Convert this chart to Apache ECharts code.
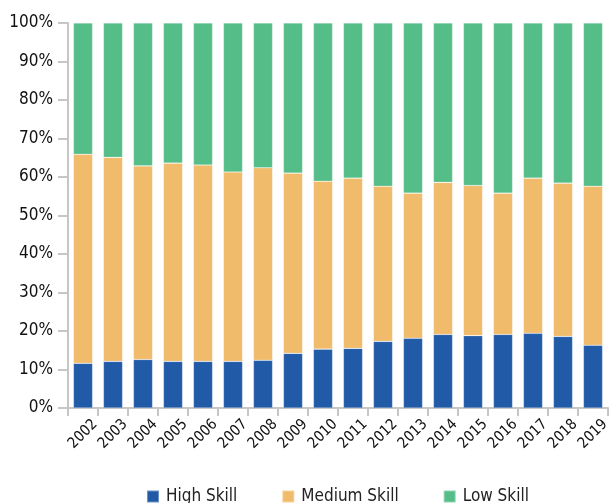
<!DOCTYPE html>
<html>
<head>
<meta charset="utf-8">
<script src="https://cdn.jsdelivr.net/npm/echarts@6/dist/echarts.min.js"></script>
<style>
  html, body { margin: 0; padding: 0; background: #fff; }
  #chart { width: 614px; height: 503px; }
</style>
</head>
<body>
<div id="chart"></div>
<script>
// Share of employment by skill level, percent of total per year
const years = ['2002','2003','2004','2005','2006','2007','2008','2009','2010',
               '2011','2012','2013','2014','2015','2016','2017','2018','2019'];
const highSkill   = [11.6,12.1,12.6,12.1,12.1,12.1,12.4,14.2,15.3,15.5,17.3,18.1,19.1,18.8,19.1,19.4,18.6,16.3];
const mediumSkill = [54.3,53.0,50.3,51.5,51.0,49.2,50.0,46.8,43.6,44.2,40.3,37.7,39.5,39.0,36.7,40.3,39.8,41.3];
const lowSkill    = [34.1,34.9,37.1,36.4,36.9,38.7,37.6,39.0,41.1,40.3,42.4,44.2,41.4,42.2,44.2,40.3,41.6,42.4];
const yTicks = [0,10,20,30,40,50,60,70,80,90,100];

const FONT = '"DejaVu Sans Condensed", "DejaVu Sans", sans-serif';
const axisGray = '#c6c6c6';

const chart = echarts.init(document.getElementById('chart'), null, { renderer: 'canvas' });

function barSeries(name, data, color) {
  return {
    name: name,
    type: 'bar',
    stack: 'share',
    data: data,
    barWidth: '64%',
    itemStyle: { color: color, borderColor: 'rgba(255,255,255,0.35)', borderWidth: 0.6 },
    emphasis: { disabled: true }
  };
}

chart.setOption({
  animation: false,
  textStyle: { fontFamily: FONT },
  grid: { left: 68, right: 6, top: 23, bottom: 95, containLabel: false },
  legend: {
    top: 483,
    left: 141,
    itemWidth: 12,
    itemHeight: 12,
    itemGap: 44,
    icon: 'rect',
    textStyle: { fontSize: 17, color: '#222', fontFamily: FONT, padding: [0, 0, 0, 2] },
    data: ['High Skill', 'Medium Skill', 'Low Skill']
  },
  xAxis: {
    type: 'category',
    data: years,
    boundaryGap: true,
    axisLine: { lineStyle: { color: axisGray, width: 2 } },
    axisTick: { show: true, length: 8, alignWithLabel: false, lineStyle: { color: axisGray, width: 2 } },
    axisLabel: {
      rotate: 45,
      interval: 0,
      align: 'center',
      verticalAlign: 'middle',
      fontSize: 15,
      color: '#111',
      fontFamily: FONT,
      margin: 26
    }
  },
  yAxis: {
    type: 'value',
    min: yTicks[0],
    max: yTicks[yTicks.length - 1],
    interval: 10,
    axisLine: { show: true, lineStyle: { color: axisGray, width: 2 } },
    axisTick: { show: true, length: 10, lineStyle: { color: axisGray, width: 2 } },
    splitLine: { show: false },
    axisLabel: {
      formatter: v => v + '%',
      fontSize: 17,
      color: '#111',
      fontFamily: FONT,
      margin: 15
    }
  },
  series: [
    barSeries('High Skill', highSkill, '#215aa6'),
    barSeries('Medium Skill', mediumSkill, '#f0bb6b'),
    barSeries('Low Skill', lowSkill, '#55be88')
  ]
});
</script>
</body>
</html>
